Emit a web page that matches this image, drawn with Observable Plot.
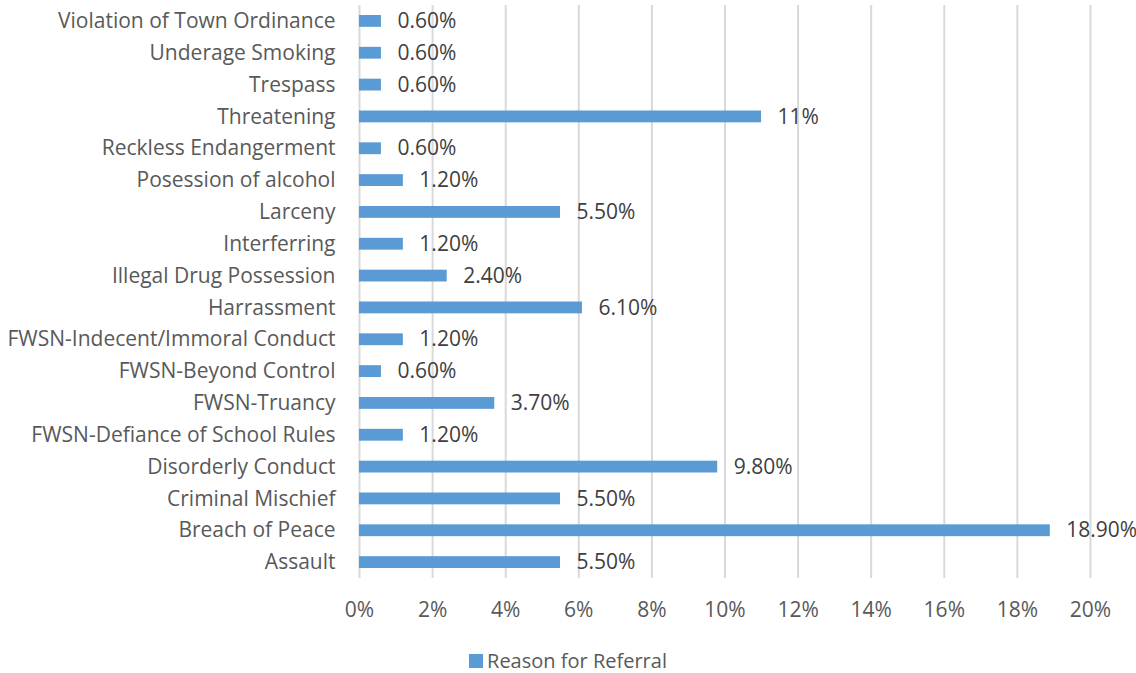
<!DOCTYPE html>
<html>
<head>
<meta charset="utf-8">
<script src="https://cdn.jsdelivr.net/npm/d3@7"></script>
<script src="https://cdn.jsdelivr.net/npm/@observablehq/plot@0.6"></script>
<style>
  html, body { margin: 0; padding: 0; background: #fff; }
  body { width: 1136px; height: 673px; overflow: hidden; font-family: "Open Sans", sans-serif; }
  #legend { position: absolute; left: 0; top: 647px; width: 1136px; display: flex; justify-content: center; align-items: center; font-size: 20px; color: #595959; }
  #legend .sw { width: 14px; height: 14px; background: #5B9BD5; margin-right: 4px; }
</style>
</head>
<body>
<div id="chart"></div>
<div id="legend"><span class="sw"></span><span class="lab">Reason for Referral</span></div>
<script>
const categories = [
  "Violation of Town Ordinance",
  "Underage Smoking",
  "Trespass",
  "Threatening",
  "Reckless Endangerment",
  "Posession of alcohol",
  "Larceny",
  "Interferring",
  "Illegal Drug Possession",
  "Harrassment",
  "FWSN-Indecent/Immoral Conduct",
  "FWSN-Beyond Control",
  "FWSN-Truancy",
  "FWSN-Defiance of School Rules",
  "Disorderly Conduct",
  "Criminal Mischief",
  "Breach of Peace",
  "Assault"
];
const values = [0.6, 0.6, 0.6, 11, 0.6, 1.2, 5.5, 1.2, 2.4, 6.1, 1.2, 0.6, 3.7, 1.2, 9.8, 5.5, 18.9, 5.5];
const valueLabels = ["0.60%", "0.60%", "0.60%", "11%", "0.60%", "1.20%", "5.50%", "1.20%", "2.40%", "6.10%", "1.20%", "0.60%", "3.70%", "1.20%", "9.80%", "5.50%", "18.90%", "5.50%"];
const xTicks = [0, 2, 4, 6, 8, 10, 12, 14, 16, 18, 20];
const seriesName = "Reason for Referral";

const data = categories.map((c, i) => ({category: c, value: values[i], label: valueLabels[i]}));

const chart = Plot.plot({
  width: 1136,
  height: 640,
  marginLeft: 359,
  marginRight: 46,
  marginTop: 5,
  marginBottom: 62,
  style: {fontFamily: "'Open Sans', sans-serif", fontSize: "21px", color: "#595959", background: "#fff"},
  x: {domain: [0, 20], ticks: xTicks, tickFormat: d => d + "%", label: null},
  y: {domain: categories, padding: 0, round: false, label: null},
  marks: [
    Plot.ruleX(xTicks, {stroke: "#d9d9d9", strokeWidth: 2}),
    Plot.barX(data, {x: "value", y: "category", fill: "#5B9BD5", insetTop: 10, insetBottom: 10}),
    Plot.text(data, {x: "value", y: "category", text: "label", textAnchor: "start", dx: 16, fill: "#404040", fontSize: 21}),
    Plot.axisX({ticks: xTicks, tickFormat: d => d + "%", tickSize: 0, tickPadding: 24, fontSize: 21, label: null, color: "#595959"}),
    Plot.axisY({tickSize: 0, tickPadding: 24, fontSize: 21, label: null, color: "#595959"})
  ]
});
document.getElementById("chart").appendChild(chart);
</script>
</body>
</html>
